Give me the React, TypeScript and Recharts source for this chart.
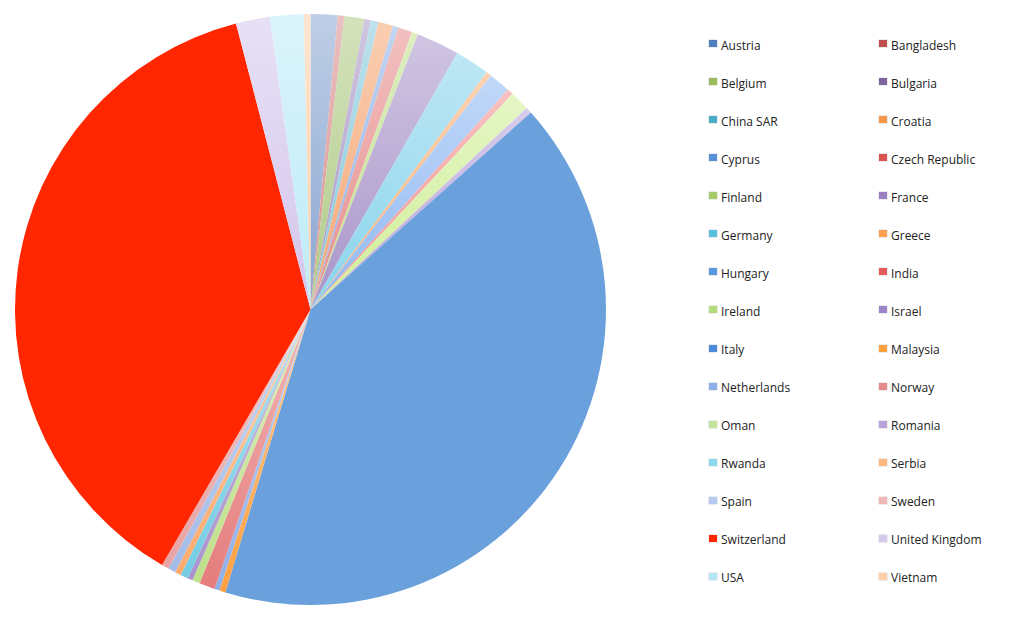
import React from 'react';
import { PieChart, Pie, Cell, Legend } from 'recharts';

// Countries in legend / slice order (clockwise from 12 o'clock)
const countries = [
  'Austria', 'Bangladesh', 'Belgium', 'Bulgaria', 'China SAR', 'Croatia',
  'Cyprus', 'Czech Republic', 'Finland', 'France', 'Germany', 'Greece',
  'Hungary', 'India', 'Ireland', 'Israel', 'Italy', 'Malaysia',
  'Netherlands', 'Norway', 'Oman', 'Romania', 'Rwanda', 'Serbia',
  'Spain', 'Sweden', 'Switzerland', 'United Kingdom', 'USA', 'Vietnam'
];

// Estimated shares
const shares = [
  5.3, 1.3, 3.9, 1.3, 1.5, 2.9,
  1.1, 2.8, 1.2, 8.5, 6.8, 1.0,
  4.3, 1.2, 3.9, 1.2, 148.5, 1.2,
  1.0, 3.1, 1.5, 1.0, 1.5, 1.2,
  1.5, 1.4, 135.2, 6.7, 6.6, 1.3
];

// Slice colours (bottom of each slice's gradient)
const sliceColors = [
  '#8AA6D1', '#D98F8E', '#B0CB86', '#A997C6', '#86C9DC', '#F5A673',
  '#8FB0E8', '#E88C8C', '#C3E08C', '#A995CA', '#88D4EC', '#FDAE70',
  '#8FB8F2', '#F29090', '#D0EE96', '#B7A3DA', '#6AA0DC', '#FFA040',
  '#8EB0E8', '#E57C7C', '#BFE08A', '#A892CC', '#72CCE4', '#FFAA6C',
  '#A3BBE8', '#E8A2A2', '#FF2600', '#D4C6EC', '#BDEBF8', '#FFCFA8'
];

// Legend swatch colours
const legendColors = [
  '#4F7FBD', '#C0504D', '#9BBB59', '#8064A2', '#4BACC6', '#F79646',
  '#5A8FD8', '#D9534F', '#A8CC6A', '#9A80C0', '#5BC0DE', '#FF9F50',
  '#5A97E0', '#E55A5A', '#B5DB7A', '#9B84C9', '#4A8AD8', '#FFA040',
  '#8BB0E8', '#E88A8A', '#C3E39A', '#B9A2D9', '#8ED8EE', '#FFB77F',
  '#B6C9EE', '#F0B5B5', '#FF2600', '#D5C9EE', '#B5E6F5', '#FFCFAA'
];

const flatSlices = ['Italy', 'Switzerland'];

const data = countries.map((name, i) => ({ name, value: shares[i] }));

const lighten = (hex: string, amt: number) => {
  const n = parseInt(hex.slice(1), 16);
  const mix = (c: number) => Math.round(c + (255 - c) * amt);
  const r = mix((n >> 16) & 255), g = mix((n >> 8) & 255), b = mix(n & 255);
  return `rgb(${r},${g},${b})`;
};

const renderLegend = () => (
  <div style={{ position: 'relative', width: 310, height: 560, fontFamily: '"Open Sans", sans-serif', fontSize: 12, color: '#222' }}>
    {countries.map((name, i) => {
      const col = i % 2;
      const row = Math.floor(i / 2);
      return (
        <div
          key={name}
          style={{ position: 'absolute', left: col * 170, top: row * 38.07, height: 16, display: 'flex', alignItems: 'center', whiteSpace: 'nowrap' }}
        >
          <span style={{ display: 'inline-block', width: 8, height: 7, marginRight: 4, marginTop: -3, background: legendColors[i], boxShadow: '0 0 0 0.5px rgba(0,0,0,0.15)' }} />
          <span>{name}</span>
        </div>
      );
    })}
  </div>
);

const App: React.FC = () => {
  return (
    <div style={{ position: 'absolute', left: 0, top: 0, width: 1024, height: 622, background: '#fff' }}>
      <PieChart width={1024} height={622} margin={{ top: 0, right: 0, bottom: 0, left: 0 }}>
        <defs>
          {countries.map((name, i) => (
            <linearGradient key={name} id={`g${i}`} x1="0" y1="0" x2="0" y2="1">
              <stop offset="0%" stopColor={flatSlices.includes(name) ? sliceColors[i] : lighten(sliceColors[i], 0.45)} />
              <stop offset="100%" stopColor={sliceColors[i]} />
            </linearGradient>
          ))}
        </defs>
        <Pie
          data={data}
          dataKey="value"
          nameKey="name"
          cx={310.5}
          cy={309.5}
          outerRadius={295.5}
          startAngle={90}
          endAngle={-270}
          stroke="none"
          isAnimationActive={false}
        >
          {data.map((d, i) => (
            <Cell key={d.name} fill={`url(#g${i})`} />
          ))}
        </Pie>
        <Legend
          layout="vertical"
          align="right"
          verticalAlign="middle"
          content={renderLegend}
          wrapperStyle={{ left: 709, top: 37, width: 310, height: 560 }}
        />
      </PieChart>
    </div>
  );
};

export default App;
